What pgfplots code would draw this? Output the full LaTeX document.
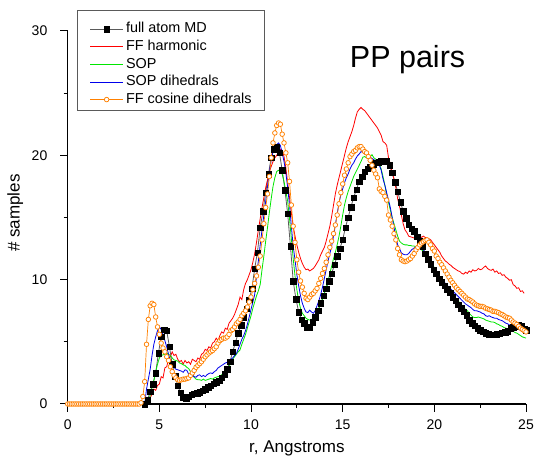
\documentclass[border=0pt]{standalone}
\usepackage{fontspec}
\setmainfont{Liberation Sans}
\usepackage{pgfplots}
\pgfplotsset{compat=1.18}
\definecolor{myorange}{RGB}{255,128,0}
\definecolor{mygreen}{RGB}{0,230,0}
\definecolor{myred}{RGB}{255,0,0}
\definecolor{myblue}{RGB}{0,0,235}
\definecolor{mygray}{RGB}{90,90,90}
\begin{document}
\begin{tikzpicture}
\begin{axis}[name=ax, at={(0,0)}, anchor=south west,
  width=458.3pt, height=373pt, scale only axis,
  xmin=0, xmax=25, ymin=0, ymax=30,
  clip=false,
  axis x line*=bottom, axis y line*=left,
  axis line style={line width=1.1pt},
  xtick={0,5,10,15,20,25}, ytick={0,10,20,30},
  minor x tick num=1, minor y tick num=1,
  tick align=outside,
  major tick length=7.5pt, minor tick length=4pt,
  every tick/.style={black, line width=1pt},
  /pgf/number format/assume math mode=true,
  ticklabel style={font=\fontsize{14}{16}\selectfont},
  xticklabel style={anchor=base, yshift=-18pt},
  yticklabel style={anchor=east, inner sep=0pt, xshift=-12.7pt, yshift=0pt},
  xlabel={r, Angstroms}, ylabel={\# samples},
  x label style={font=\fontsize{17}{20}\selectfont, at={(axis description cs:0.5,0)}, anchor=base, yshift=-48.5pt},
  y label style={font=\fontsize{17}{20}\selectfont, at={(axis description cs:-0.105,0.512)}, anchor=base, rotate=0},
  legend image code/.code={\draw[mark repeat=2,mark phase=2,#1] plot coordinates {(0pt,0pt) (16.5pt,0pt) (33pt,0pt)};},
  legend style={at={(axis description cs:0.0476,1.029)}, anchor=north west, draw=none, fill=none,
    inner xsep=0pt, inner ysep=0pt, font=\fontsize{14.4}{17}\selectfont,
    nodes={inner sep=2.5pt, text height=10pt, text depth=2.6pt}, cells={anchor=west}, row sep=0pt},
]
\draw[mygray, line width=0.8pt] (axis description cs:0.0203,1.0563) rectangle (axis description cs:0.4283,0.7882);
% full atom MD
\addplot[color=mygray, line width=0.8pt, mark=square*, mark size=2.7pt, mark options={fill=black, draw=black, line width=0.2pt}] table {
4.2 0
4.35 0.3
4.5 1.0
4.65 1.6
4.8 2.5
4.95 4.1
5.1 5.4
5.25 6.0
5.4 5.9
5.55 4.6
5.7 3.2
5.85 2.25
6.0 1.5
6.15 0.9
6.3 0.55
6.45 0.47
6.6 0.6
6.75 0.75
6.9 0.85
7.05 0.87
7.2 0.95
7.35 1.07
7.5 1.2
7.65 1.37
7.8 1.5
7.95 1.62
8.1 1.75
8.25 1.9
8.4 2.1
8.55 2.4
8.7 2.8
8.85 3.4
9.0 4.2
9.15 4.95
9.3 5.7
9.45 6.35
9.6 7.0
9.75 7.65
9.9 8.4
10.05 9.3
10.2 10.9
10.35 12.2
10.5 14.2
10.65 15.5
10.8 17.0
10.95 18.5
11.1 19.8
11.25 20.5
11.4 20.7
11.55 20.2
11.7 18.8
11.85 17.2
12.0 15.3
12.15 12.7
12.3 9.9
12.45 8.45
12.6 7.4
12.75 6.8
12.9 6.5
13.05 6.2
13.2 6.2
13.35 6.6
13.5 7.0
13.65 7.5
13.8 8.1
13.95 8.7
14.1 9.3
14.25 9.9
14.4 10.5
14.55 11.2
14.7 11.9
14.85 12.5
15.0 13.2
15.15 14.2
15.3 15.0
15.45 15.85
15.6 16.6
15.75 17.25
15.9 17.9
16.05 18.3
16.2 18.7
16.35 18.95
16.5 19.1
16.65 19.3
16.8 19.4
16.95 19.47
17.1 19.55
17.25 19.6
17.4 19.55
17.55 19.2
17.7 18.6
17.85 17.85
18.0 17.1
18.15 16.25
18.3 15.5
18.45 14.95
18.6 14.45
18.75 14.1
18.9 13.9
19.05 13.45
19.2 13.1
19.35 12.7
19.5 12.1
19.65 11.65
19.8 11.25
19.95 10.8
20.1 10.5
20.25 10.1
20.4 9.8
20.55 9.5
20.7 9.25
20.85 8.95
21.0 8.6
21.15 8.3
21.3 8.0
21.45 7.7
21.6 7.45
21.75 7.15
21.9 6.75
22.05 6.5
22.2 6.3
22.35 6.1
22.5 5.95
22.65 5.8
22.8 5.7
22.95 5.63
23.1 5.6
23.25 5.6
23.4 5.62
23.55 5.67
23.7 5.72
23.85 5.78
24.0 5.85
24.15 6.1
24.3 6.2
24.45 6.28
24.6 6.35
24.75 6.3
24.9 6.05
25.0 5.95
};
\addlegendentry{full atom MD}
% FF harmonic
\addplot[color=myred, line width=0.8pt] table {
4.3 0
4.4 0.1
4.5 0.5
4.6 0.8
4.7 1.2
4.8 1.1
4.9 1.5
5.0 1.6
5.1 2.2
5.2 2.1
5.3 2.9
5.4 3.0
5.5 3.6
5.6 3.8
5.7 4.2
5.8 3.9
5.9 4.0
6.0 3.6
6.1 3.4
6.2 3.5
6.3 3.2
6.4 3.5
6.5 3.3
6.6 3.4
6.7 3.2
6.8 3.6
6.9 3.5
7.0 3.4
7.1 3.7
7.2 3.6
7.3 4.0
7.4 4.1
7.5 4.4
7.6 4.3
7.7 4.6
7.8 4.5
7.9 4.9
8.0 5.0
8.1 5.3
8.2 5.1
8.3 5.5
8.4 5.8
8.5 5.7
8.6 6.1
8.7 6.0
8.8 6.5
8.9 6.7
9.0 6.9
9.1 7.2
9.2 7.6
9.3 8.0
9.4 8.6
9.5 8.4
9.6 9.2
9.7 9.7
9.8 10.0
9.9 10.4
10.0 10.8
10.1 11.4
10.2 12.1
10.3 13.0
10.4 14.0
10.5 14.9
10.6 15.8
10.7 16.6
10.8 17.4
10.9 18.0
11.0 18.7
11.1 19.1
11.2 19.5
11.3 19.8
11.4 20.0
11.5 20.3
11.6 20.5
11.7 20.4
11.8 19.9
11.9 19.0
12.0 17.8
12.1 16.6
12.2 15.4
12.3 14.3
12.4 13.5
12.5 12.8
12.6 12.2
12.7 11.7
12.8 11.3
12.9 11.0
13.0 10.8
13.1 10.85
13.2 10.7
13.3 10.8
13.4 10.9
13.5 11.1
13.6 11.35
13.7 11.6
13.8 12.0
13.9 12.3
14.0 12.6
14.1 13.1
14.2 13.7
14.3 14.3
14.4 15.1
14.5 16.0
14.6 16.9
14.7 17.6
14.8 18.2
14.9 18.8
15.0 19.4
15.1 20.0
15.2 20.6
15.3 21.1
15.4 21.5
15.5 21.9
15.6 22.4
15.7 23.0
15.8 23.5
15.9 23.7
16.0 23.85
16.1 23.7
16.2 23.6
16.3 23.4
16.4 23.2
16.5 23.0
16.6 22.8
16.7 22.6
16.8 22.4
16.9 22.2
17.0 21.9
17.1 21.6
17.2 21.1
17.3 21.0
17.4 20.8
17.5 19.8
17.6 19.3
17.7 18.6
17.8 18.1
17.9 17.4
18.0 16.5
18.1 15.9
18.2 15.2
18.3 14.5
18.4 14.0
18.5 13.8
18.6 13.5
18.7 13.45
18.8 13.4
18.9 13.35
19.0 13.3
19.1 13.4
19.2 13.5
19.3 13.4
19.4 13.5
19.5 13.4
19.6 13.35
19.7 13.3
19.8 13.2
19.9 13.0
20.0 12.8
20.1 12.6
20.2 12.4
20.3 12.2
20.4 11.9
20.5 11.7
20.6 11.5
20.7 11.4
20.8 11.25
20.9 11.15
21.0 11.0
21.1 10.9
21.2 10.8
21.3 10.7
21.4 10.65
21.5 10.5
21.6 10.45
21.7 10.6
21.8 10.5
21.9 10.7
22.0 10.6
22.1 10.8
22.2 10.7
22.3 10.75
22.4 10.9
22.5 10.8
22.6 10.85
22.7 11.0
22.8 11.1
22.9 10.9
23.0 10.8
23.1 10.75
23.2 10.85
23.3 10.6
23.4 10.7
23.5 10.5
23.6 10.55
23.7 10.35
23.8 10.4
23.9 10.2
24.0 10.1
24.1 9.95
24.2 10.0
24.3 9.6
24.4 9.5
24.5 9.3
24.6 9.35
24.7 9.05
24.8 9.1
24.9 8.9
};
\addlegendentry{FF harmonic}
% SOP
\addplot[color=mygreen, line width=0.8pt] table {
4.3 0
4.4 0.2
4.5 0.7
4.6 1.3
4.7 1.9
4.8 2.6
4.9 3.2
5.0 3.7
5.1 3.9
5.2 3.95
5.3 4.0
5.4 4.1
5.5 4.0
5.6 3.9
5.7 3.7
5.8 3.55
5.9 3.5
6.0 3.45
6.1 3.3
6.2 3.25
6.3 3.15
6.4 3.1
6.5 2.95
6.6 2.85
6.7 2.6
6.8 2.35
6.9 2.15
7.0 2.0
7.1 1.95
7.2 1.95
7.3 1.9
7.4 2.0
7.5 1.9
7.6 1.95
7.7 2.0
7.8 2.05
7.9 2.0
8.0 2.1
8.1 2.15
8.2 2.2
8.3 2.2
8.4 2.35
8.5 2.5
8.6 2.65
8.7 2.8
8.8 3.0
8.9 3.3
9.0 3.6
9.1 3.8
9.2 4.0
9.3 4.2
9.4 4.35
9.5 4.8
9.6 5.2
9.7 5.6
9.8 6.1
9.9 6.6
10.0 7.1
10.1 7.7
10.2 8.2
10.3 8.7
10.4 9.1
10.5 9.6
10.6 10.8
10.7 11.9
10.8 13.1
10.9 14.2
11.0 15.4
11.1 16.5
11.2 17.5
11.3 18.2
11.4 18.7
11.5 18.8
11.6 18.7
11.7 18.5
11.8 17.9
11.9 17.1
12.0 16.3
12.1 14.9
12.2 13.3
12.3 11.7
12.4 10.3
12.5 9.2
12.6 8.3
12.7 7.7
12.8 7.3
12.9 7.1
13.0 6.9
13.1 6.8
13.2 6.75
13.3 6.8
13.4 6.9
13.5 7.1
13.6 7.4
13.7 7.7
13.8 8.0
13.9 8.4
14.0 8.9
14.1 9.4
14.2 9.9
14.3 10.5
14.4 11.1
14.5 11.7
14.6 12.2
14.7 12.8
14.8 13.5
14.9 14.3
15.0 15.2
15.1 16.0
15.2 16.6
15.3 17.1
15.4 17.5
15.5 17.9
15.6 18.3
15.7 18.6
15.8 18.9
15.9 19.2
16.0 19.5
16.1 19.85
16.2 19.9
16.3 19.8
16.4 19.75
16.5 19.9
16.6 20.05
16.7 19.8
16.8 19.7
16.9 19.5
17.0 19.3
17.1 18.9
17.2 18.3
17.3 17.6
17.4 16.8
17.5 16.2
17.6 15.6
17.7 15.0
17.8 14.5
17.9 14.0
18.0 13.5
18.1 13.1
18.2 12.95
18.3 12.85
18.4 12.8
18.5 12.8
18.6 12.75
18.7 12.75
18.8 12.7
18.9 12.7
19.0 12.65
19.1 12.55
19.2 12.5
19.3 12.4
19.4 12.3
19.5 12.1
19.6 11.95
19.7 11.7
19.8 11.5
19.9 11.25
20.0 10.95
20.1 10.6
20.2 10.35
20.3 10.15
20.4 9.95
20.5 9.8
20.6 9.6
20.7 9.4
20.8 9.2
20.9 9.05
21.0 8.85
21.1 8.65
21.2 8.45
21.3 8.3
21.4 8.1
21.5 7.95
21.6 7.8
21.7 7.6
21.8 7.5
21.9 7.3
22.0 7.15
22.1 7.0
22.2 6.95
22.3 6.95
22.4 7.0
22.5 6.95
22.6 6.9
22.7 6.85
22.8 6.75
22.9 6.7
23.0 6.65
23.1 6.6
23.2 6.6
23.3 6.55
23.4 6.45
23.5 6.4
23.6 6.3
23.7 6.25
23.8 6.15
23.9 6.1
24.0 6.05
24.1 5.95
24.2 5.9
24.3 5.85
24.4 5.75
24.5 5.7
24.6 5.6
24.7 5.5
24.8 5.4
24.9 5.35
25.0 5.3
};
\addlegendentry{SOP}
% SOP dihedrals
\addplot[color=myblue, line width=0.8pt] table {
4.2 0
4.3 1.2
4.4 2.0
4.5 2.8
4.6 3.9
4.7 4.8
4.8 5.4
4.9 5.9
5.0 6.2
5.1 6.0
5.2 5.6
5.3 5.1
5.4 4.6
5.5 4.0
5.6 3.5
5.7 3.2
5.8 2.95
5.9 2.8
6.0 2.75
6.1 2.7
6.2 2.65
6.3 2.55
6.4 2.75
6.5 2.7
6.6 2.4
6.7 2.3
6.8 2.35
6.9 2.2
7.0 2.15
7.1 2.3
7.2 2.35
7.3 2.2
7.4 2.3
7.5 2.2
7.6 2.35
7.7 2.45
7.8 2.5
7.9 2.45
8.0 2.6
8.1 2.7
8.2 2.9
8.3 3.0
8.4 3.1
8.5 3.2
8.6 3.3
8.7 3.35
8.8 3.5
8.9 3.6
9.0 3.7
9.1 3.9
9.2 4.05
9.3 4.4
9.4 4.8
9.5 5.2
9.6 5.5
9.7 5.9
9.8 6.4
9.9 7.0
10.0 7.6
10.1 8.2
10.2 8.8
10.3 10.3
10.4 11.5
10.5 12.8
10.6 14.0
10.7 15.2
10.8 16.3
10.9 17.5
11.0 18.7
11.1 19.6
11.2 20.3
11.3 20.7
11.4 20.85
11.5 21.0
11.6 20.8
11.7 20.2
11.8 19.5
11.9 18.6
12.0 17.4
12.1 16.0
12.2 14.3
12.3 12.7
12.4 11.6
12.5 10.4
12.6 9.5
12.7 8.7
12.8 8.1
12.9 7.7
13.0 7.4
13.1 7.35
13.2 7.55
13.3 7.4
13.4 7.3
13.5 7.5
13.6 7.9
13.7 8.3
13.8 8.8
13.9 9.4
14.0 10.1
14.1 10.8
14.2 11.5
14.3 12.1
14.4 12.7
14.5 13.5
14.6 14.4
14.7 15.3
14.8 16.2
14.9 16.8
15.0 17.3
15.1 17.8
15.2 18.2
15.3 18.5
15.4 18.9
15.5 19.2
15.6 19.4
15.7 19.7
15.8 19.95
15.9 20.1
16.0 20.3
16.1 20.25
16.2 20.1
16.3 20.05
16.4 19.9
16.5 19.85
16.6 19.75
16.7 19.65
16.8 19.55
16.9 19.45
17.0 19.2
17.1 18.8
17.2 18.1
17.3 17.6
17.4 17.0
17.5 16.4
17.6 15.8
17.7 15.0
17.8 14.2
17.9 13.4
18.0 12.8
18.1 12.5
18.2 12.15
18.3 12.05
18.4 12.0
18.5 12.0
18.6 12.1
18.7 12.3
18.8 12.45
18.9 12.55
19.0 12.65
19.1 12.6
19.2 12.6
19.3 12.55
19.4 12.4
19.5 12.2
19.6 11.95
19.7 11.65
19.8 11.35
19.9 11.1
20.0 10.8
20.1 10.55
20.2 10.35
20.3 10.15
20.4 10.0
20.5 9.85
20.6 9.7
20.7 9.55
20.8 9.4
20.9 9.25
21.0 9.1
21.1 8.95
21.2 8.8
21.3 8.65
21.4 8.5
21.5 8.35
21.6 8.2
21.7 8.05
21.8 7.95
21.9 7.85
22.0 7.75
22.1 7.6
22.2 7.5
22.3 7.5
22.4 7.45
22.5 7.4
22.6 7.3
22.7 7.25
22.8 7.1
22.9 7.05
23.0 7.1
23.1 7.0
23.2 6.95
23.3 6.9
23.4 6.9
23.5 6.8
23.6 6.75
23.7 6.7
23.8 6.6
23.9 6.5
24.0 6.45
24.1 6.35
24.2 6.3
24.3 6.2
24.4 6.15
24.5 6.05
24.6 6.0
24.7 5.95
24.8 5.9
24.9 5.85
25.0 5.8
};
\addlegendentry{SOP dihedrals}
% FF cosine dihedrals
\addplot[color=myorange, line width=0.7pt, mark=*, mark size=2.3pt, mark options={fill=white, draw=myorange, line width=0.75pt}] table {
0.0 0
0.1 0
0.2 0
0.3 0
0.4 0
0.5 0
0.6 0
0.7 0
0.8 0
0.9 0
1.0 0
1.1 0
1.2 0
1.3 0
1.4 0
1.5 0
1.6 0
1.7 0
1.8 0
1.9 0
2.0 0
2.1 0
2.2 0
2.3 0
2.4 0
2.5 0
2.6 0
2.7 0
2.8 0
2.9 0
3.0 0
3.1 0
3.2 0
3.3 0
3.4 0
3.5 0
3.6 0
3.7 0
3.8 0
3.9 0
4.0 0.1
4.1 0.6
4.2 1.8
4.3 4.8
4.4 6.8
4.5 7.9
4.6 8.1
4.7 8.0
4.8 7.0
4.9 6.2
5.0 5.6
5.1 4.9
5.2 4.5
5.3 4.2
5.4 3.8
5.5 3.5
5.6 3.0
5.7 2.6
5.8 2.3
5.9 2.1
6.0 1.95
6.1 1.9
6.2 1.95
6.3 2.0
6.4 2.0
6.5 2.05
6.6 2.1
6.7 2.3
6.8 2.5
6.9 2.7
7.0 2.95
7.1 3.1
7.2 3.25
7.3 3.4
7.4 3.6
7.5 3.8
7.6 3.95
7.7 4.1
7.8 4.2
7.9 4.3
8.0 4.45
8.1 4.6
8.2 4.9
8.3 5.1
8.4 5.2
8.5 5.3
8.6 5.3
8.7 5.4
8.8 5.6
8.9 5.9
9.0 6.0
9.1 6.2
9.2 6.45
9.3 6.6
9.4 6.8
9.5 7.1
9.6 7.3
9.7 7.5
9.8 7.8
9.9 8.2
10.0 8.6
10.1 9.2
10.2 9.7
10.3 10.3
10.4 11.0
10.5 11.9
10.6 13.2
10.7 14.5
10.8 15.8
10.9 16.9
11.0 18.3
11.1 19.8
11.2 21.0
11.3 21.8
11.4 22.4
11.5 22.6
11.6 22.5
11.7 21.7
11.8 21.0
11.9 20.2
12.0 19.4
12.1 17.9
12.2 16.0
12.3 14.3
12.4 13.0
12.5 11.6
12.6 10.6
12.7 9.9
12.8 9.4
12.9 8.9
13.0 8.5
13.1 8.4
13.2 8.6
13.3 8.8
13.4 8.9
13.5 9.1
13.6 9.3
13.7 9.7
13.8 10.1
13.9 10.5
14.0 10.9
14.1 11.4
14.2 12.0
14.3 12.6
14.4 13.1
14.5 13.7
14.6 14.4
14.7 15.2
14.8 16.1
14.9 17.0
15.0 17.7
15.1 18.4
15.2 18.9
15.3 19.4
15.4 19.9
15.5 20.1
15.6 20.3
15.7 20.4
15.8 20.6
15.9 20.7
16.0 20.7
16.1 20.5
16.2 20.3
16.3 20.2
16.4 19.9
16.5 19.6
16.6 19.2
16.7 18.8
16.8 18.5
16.9 18.2
17.0 17.3
17.1 17.1
17.2 17.0
17.3 16.7
17.4 16.4
17.5 15.2
17.6 14.8
17.7 14.3
17.8 13.7
17.9 13.2
18.0 12.5
18.1 12.0
18.2 11.6
18.3 11.5
18.4 11.45
18.5 11.5
18.6 11.6
18.7 11.7
18.8 11.9
18.9 12.1
19.0 12.4
19.1 12.6
19.2 12.8
19.3 12.95
19.4 13.05
19.5 13.15
19.6 13.2
19.7 13.0
19.8 12.8
19.9 12.5
20.0 12.3
20.1 11.9
20.2 11.7
20.3 11.4
20.4 11.2
20.5 10.95
20.6 10.7
20.7 10.45
20.8 10.2
20.9 9.95
21.0 9.75
21.1 9.55
21.2 9.35
21.3 9.2
21.4 9.05
21.5 8.9
21.6 8.75
21.7 8.6
21.8 8.45
21.9 8.4
22.0 8.3
22.1 8.2
22.2 8.05
22.3 7.95
22.4 7.9
22.5 7.85
22.6 7.85
22.7 7.8
22.8 7.7
22.9 7.65
23.0 7.6
23.1 7.55
23.2 7.45
23.3 7.45
23.4 7.4
23.5 7.35
23.6 7.25
23.7 7.2
23.8 7.1
23.9 7.0
24.0 6.95
24.1 6.9
24.2 6.75
24.3 6.6
24.4 6.5
24.5 6.4
24.6 6.25
24.7 6.1
24.8 6.0
24.9 5.9
25.0 5.8
};
\addlegendentry{FF cosine dihedrals}
\node[font=\fontsize{30.5}{36}\selectfont, anchor=base, inner sep=0pt] at (axis cs:18.54,27.1) {PP pairs};
\end{axis}
\pgfresetboundingbox
\path[use as bounding box] (-67.7pt,-53pt) rectangle (467.3pt,404pt);
\end{tikzpicture}
\end{document}
